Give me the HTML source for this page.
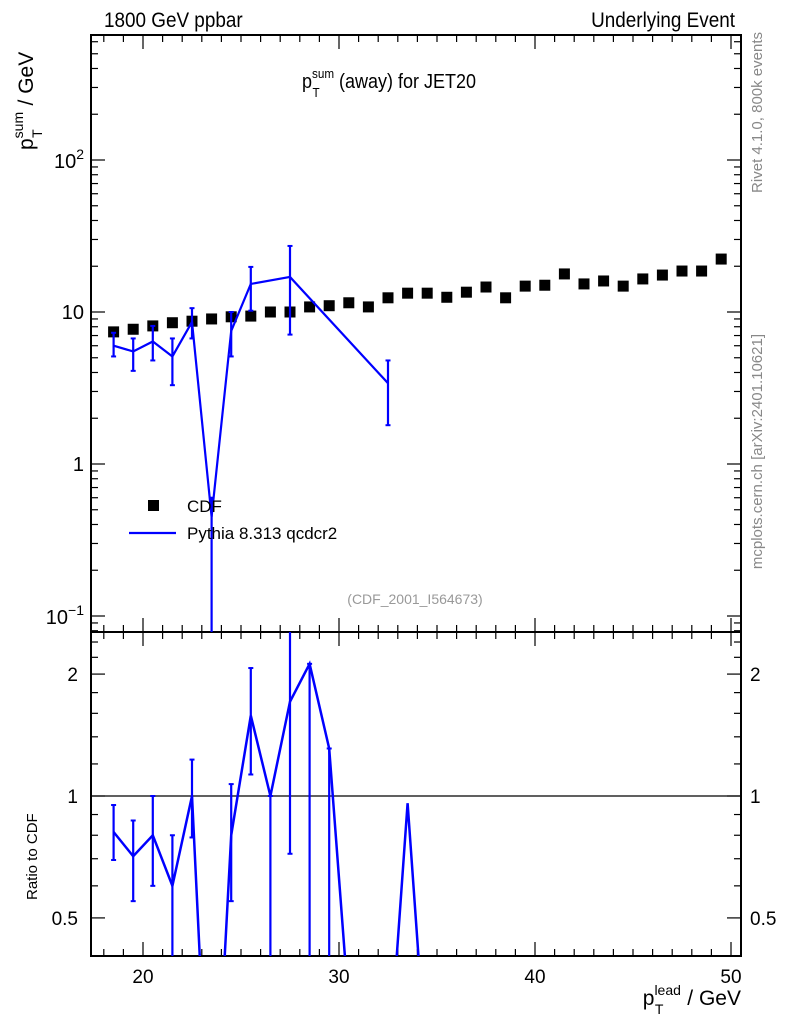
<!DOCTYPE html>
<html><head><meta charset="utf-8"><style>
html,body{margin:0;padding:0;background:#fff;width:786px;height:1024px;overflow:hidden;}
svg{display:block;font-family:"Liberation Sans",sans-serif;}
</style></head><body>
<svg id="c" width="786" height="1024" viewBox="0 0 786 1024"></svg>
<script>
const cdfX=[18.5,19.5,20.5,21.5,22.5,23.5,24.5,25.5,26.5,27.5,28.5,29.5,30.5,31.5,32.5,33.5,34.5,35.5,36.5,37.5,38.5,39.5,40.5,41.5,42.5,43.5,44.5,45.5,46.5,47.5,48.5,49.5];
const cdfY=[7.4,7.7,8.1,8.5,8.7,9.0,9.3,9.4,10,10,10.8,11,11.5,10.8,12.4,13.3,13.3,12.5,13.5,14.6,12.4,14.8,15,17.8,15.3,16,14.8,16.5,17.5,18.6,18.6,22.3];
const pyX=[18.5,19.5,20.5,21.5,22.5,23.5,24.5,25.5,27.5,32.5];
const pyY=[6.0,5.5,6.4,5.1,8.6,0.45,7.5,15.3,17,3.4];
const pyHi=[7.3,6.7,8.1,6.7,10.6,0.6,10,19.8,27.2,4.8];
const pyLo=[5.1,4.1,4.8,3.3,6.7,0.01,5.1,10.2,7.1,1.8];
const rX=[18.5,19.5,20.5,21.5,22.5,23.5,24.5,25.5,26.5,27.5,28.5,29.5,30.5,31.5,32.5,33.5,34.5];
const rY=[0.815,0.71,0.80,0.60,1.0,0.1,0.8,1.58,1.0,1.71,2.12,1.31,0.3,0.2,0.2,0.96,0.2];
const rHi=[0.95,0.87,1.0,0.80,1.23,0.1,1.07,2.07,1.0,3.0,2.12,1.31,0.3,0.2,0.2,0.96,0.2];
const rLo=[0.695,0.55,0.60,0.01,0.79,0.1,0.55,1.13,0.01,0.72,0.01,0.01,0.3,0.2,0.2,0.96,0.2];
const xTicks=[20,30,40,50];

const L=91,R=741,T=35,M=632,B=956;
const NS="http://www.w3.org/2000/svg";
const svg=document.getElementById('c');
const sx=v=>143+(v-20)*19.6;
const sy=v=>312-(Math.log10(v)-1)*152;
const ry=v=>796-Math.log10(v)*405;
function el(t,a,p){const e=document.createElementNS(NS,t);for(const k in a)e.setAttribute(k,a[k]);(p||svg).appendChild(e);return e;}
function txt(x,y,s,a){const e=el('text',Object.assign({x:x,y:y},a));e.textContent=s;return e;}

const defs=el('defs',{});
const c1=el('clipPath',{id:'cm'},defs);el('rect',{x:L,y:T,width:R-L,height:M-T},c1);
const c2=el('clipPath',{id:'cr'},defs);el('rect',{x:L,y:M,width:R-L,height:B-M},c2);

let f=el('rect',{x:L,y:T,width:R-L,height:M-T,fill:'none',stroke:'#000','stroke-width':2});

f=el('rect',{x:L,y:M,width:R-L,height:B-M,fill:'none',stroke:'#000','stroke-width':2});


for(let v=18;v<=50;v++){
  const x=sx(v),len=(v%10==0)?14:7;
  [[T,1],[M,-1],[M,1],[B,-1]].forEach(([y,d])=>{el('line',{x1:x,x2:x,y1:y,y2:y+d*len,stroke:'#000','stroke-width':1.2});});
}
xTicks.forEach(v=>{const t=txt(sx(v),983,String(v),{'font-size':19,'text-anchor':'middle'});
});

for(let d=-2;d<=2;d++){for(let m=1;m<10;m++){const v=m*Math.pow(10,d);const y=sy(v);if(y<T||y>M)continue;
 const len=m==1?14:7;el('line',{x1:L,x2:L+len,y1:y,y2:y,stroke:'#000','stroke-width':1.2});el('line',{x1:R,x2:R-len,y1:y,y2:y,stroke:'#000','stroke-width':1.2});}}
let t=txt(84,471,'1',{'font-size':20,'text-anchor':'end'});
t=txt(84,319,'10',{'font-size':20,'text-anchor':'end'});
t=el('text',{x:84,y:168,'font-size':20,'text-anchor':'end'});t.innerHTML='10<tspan dy="-9" font-size="14">2</tspan>';
t=el('text',{x:84,y:624,'font-size':20,'text-anchor':'end'});t.innerHTML='10<tspan dy="-9" font-size="14">−1</tspan>';

[0.5,0.6,0.7,0.8,0.9,1,1.2,1.4,1.6,1.8,2,2.2,2.4].forEach(v=>{const y=ry(v);const len=(v==0.5||v==1||v==2)?14:7;
 el('line',{x1:L,x2:L+len,y1:y,y2:y,stroke:'#000','stroke-width':1.2});el('line',{x1:R,x2:R-len,y1:y,y2:y,stroke:'#000','stroke-width':1.2});});
[[2,'2'],[1,'1'],[0.5,'0.5']].forEach(([v,s])=>{
 let a=txt(78,ry(v)+7,s,{'font-size':19,'text-anchor':'end'});
 a=txt(750,ry(v)+7,s,{'font-size':19});});
el('line',{x1:L,x2:R,y1:ry(1),y2:ry(1),stroke:'#000','stroke-width':1.3});

const gm=el('g',{'clip-path':'url(#cm)'});
cdfX.forEach((x,i)=>{const r=el('rect',{x:sx(x)-5.5,y:sy(cdfY[i])-5.5,width:11,height:11,fill:'#000'},gm);
 });
let p=el('polyline',{points:pyX.map((x,i)=>sx(x)+','+sy(pyY[i])).join(' '),fill:'none',stroke:'#00f','stroke-width':2.2},gm);

pyX.forEach((x,i)=>{const X=sx(x);const e=el('line',{x1:X,x2:X,y1:sy(pyHi[i]),y2:sy(pyLo[i]),stroke:'#00f','stroke-width':2.2},gm);
 
 [pyHi[i],pyLo[i]].forEach(v=>el('line',{x1:X-2.5,x2:X+2.5,y1:sy(v),y2:sy(v),stroke:'#00f','stroke-width':2},gm));});
const gr=el('g',{'clip-path':'url(#cr)'});
p=el('polyline',{points:rX.map((x,i)=>sx(x)+','+ry(rY[i])).join(' '),fill:'none',stroke:'#00f','stroke-width':2.5},gr);

rX.forEach((x,i)=>{if(rHi[i]==rLo[i])return;const X=sx(x);const e=el('line',{x1:X,x2:X,y1:ry(rHi[i]),y2:ry(rLo[i]),stroke:'#00f','stroke-width':2.2},gr);
 
 [rHi[i],rLo[i]].forEach(v=>el('line',{x1:X-2.5,x2:X+2.5,y1:ry(v),y2:ry(v),stroke:'#00f','stroke-width':2},gr));});

let lg=el('rect',{x:148,y:500,width:11,height:11,fill:'#000'});
t=txt(187,512,'CDF',{'font-size':17});
lg=el('line',{x1:129,x2:176,y1:533,y2:533,stroke:'#00f','stroke-width':2.2});
t=txt(187,539,'Pythia 8.313 qcdcr2',{'font-size':17});

t=txt(104,27,'1800 GeV ppbar',{'font-size':21,transform:'translate(104 0) scale(0.9 1) translate(-104 0)'});
t=txt(735,27,'Underlying Event',{'font-size':21,'text-anchor':'end',transform:'translate(735 0) scale(0.9 1) translate(-735 0)'});
t=el('text',{x:302,y:88,'font-size':20,transform:'translate(302 0) scale(0.9 1) translate(-302 0)'});t.innerHTML='p<tspan dy="-10" font-size="13">sum</tspan><tspan dx="-24" dy="19" font-size="13">T</tspan><tspan dx="16" dy="-9"> (away) for JET20</tspan>';

t=txt(415,604,'(CDF_2001_I564673)',{'font-size':14,fill:'#999','text-anchor':'middle'});
t=el('text',{x:0,y:0,'font-size':21,transform:'translate(33 150) rotate(-90)'});t.innerHTML='p<tspan dy="-10" font-size="14">sum</tspan><tspan dx="-26" dy="19" font-size="14">T</tspan><tspan dx="18" dy="-9"> / GeV</tspan>';

t=txt(0,0,'Ratio to CDF',{'font-size':15,transform:'translate(37 900) rotate(-90)'});
t=el('text',{x:741,y:1005,'font-size':21,'text-anchor':'end'});t.innerHTML='p<tspan dy="-10" font-size="14">lead</tspan><tspan dx="-26" dy="19" font-size="14">T</tspan><tspan dx="18" dy="-9"> / GeV</tspan>';

t=txt(0,0,'Rivet 4.1.0,  800k events',{'font-size':15,fill:'#888','text-anchor':'end',transform:'translate(762 32) rotate(-90)'});
t=txt(0,0,'mcplots.cern.ch [arXiv:2401.10621]',{'font-size':15,fill:'#888','text-anchor':'end',transform:'translate(762 334) rotate(-90)'});
</script>
</body></html>
